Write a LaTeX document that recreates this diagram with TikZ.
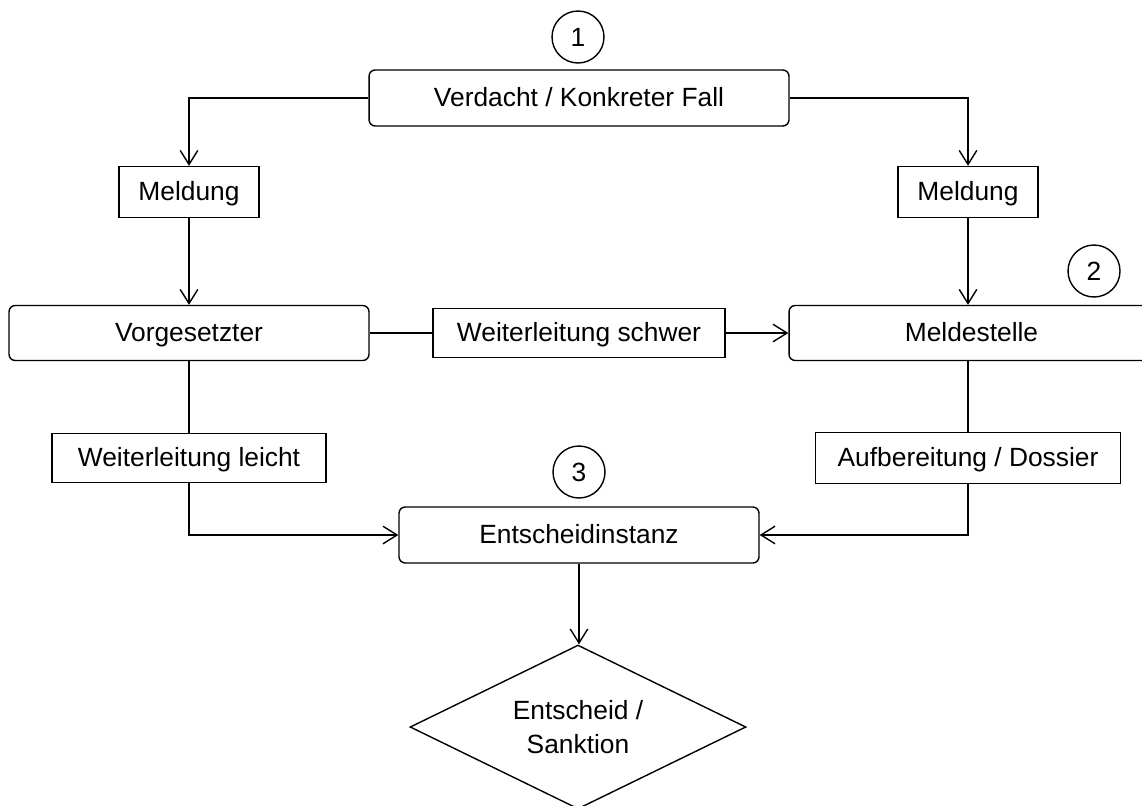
\documentclass[tikz,border=0pt]{standalone}
\usepackage{fontspec}
\setmainfont{Liberation Sans}
\usetikzlibrary{shapes.geometric,arrows.meta}

\tikzset{
  base/.style={draw, line width=0.8pt, inner sep=2pt,
    font=\fontsize{15}{19}\selectfont},
  txt/.style={text height=12pt, text depth=2pt},
  roundbox/.style={base, txt, rounded corners=3.5pt},
  labelbox/.style={base, txt},
  stepnum/.style={base, circle, minimum size=1.04cm, inner sep=0pt},
  decision/.style={base, diamond, aspect=2.05, inner sep=0pt,
    minimum width=6.72cm, minimum height=3.28cm, align=center},
  arr/.style={line width=0.8pt, -{Straight Barb[length=8pt,width=10pt]}},
  ln/.style={line width=0.8pt}
}

\begin{document}
\begin{tikzpicture}[x=0.02cm, y=-0.02cm]

\useasboundingbox (0,0) rectangle (1142,805);

% STEP 1: the case and the two reports
\node[stepnum] (s1) at (578,37) {1};
\node[roundbox, minimum width=8.4cm, minimum height=1.12cm] (fall) at (579,98) {Verdacht / Konkreter Fall};
\node[labelbox, minimum width=2.8cm, minimum height=1.02cm] (meldL) at (189,192) {Meldung};
\node[labelbox, minimum width=2.8cm, minimum height=1.02cm] (meldR) at (968,192) {Meldung};

% STEP 2: the two receivers
\node[roundbox, minimum width=7.2cm, minimum height=1.1cm] (vorg) at (189,333) {Vorgesetzter};
\node[roundbox, minimum width=7.3cm, minimum height=1.1cm] (mstelle) at (971.5,333) {Meldestelle};
\node[stepnum] (s2) at (1094,271) {2};
\node[labelbox, minimum width=5.84cm, minimum height=0.98cm] (schwer) at (579,333) {Weiterleitung schwer};

% STEP 3: forwarding to the decision
\node[labelbox, minimum width=5.48cm, minimum height=0.98cm] (leicht) at (189,458) {Weiterleitung leicht};
\node[labelbox, minimum width=6.1cm, minimum height=1.02cm] (dossier) at (968,458) {Aufbereitung / Dossier};
\node[stepnum] (s3) at (579,472) {3};
\node[roundbox, minimum width=7.2cm, minimum height=1.12cm] (instanz) at (579,535) {Entscheidinstanz};
\node[decision] (sanktion) at (578,727) {Entscheid /\\Sanktion};

% STEP 4: connectors
\draw[arr] (fall.west) -| (meldL.north);
\draw[arr] (fall.east) -| (meldR.north);
\draw[arr] (meldL) -- (vorg);
\draw[arr] (meldR.south) -- (meldR.south |- mstelle.north);
\draw[ln] (vorg.east) -- (schwer.west);
\draw[arr] (schwer.east) -- (mstelle.west);
\draw[ln] (vorg) -- (leicht);
\draw[arr] (leicht.south) |- (instanz.west);
\draw[ln] (dossier.north |- mstelle.south) -- (dossier.north);
\draw[arr] (dossier.south) |- (instanz.east);
\draw[arr] (instanz.south) -- (instanz.south |- sanktion.north);

\end{tikzpicture}
\end{document}
